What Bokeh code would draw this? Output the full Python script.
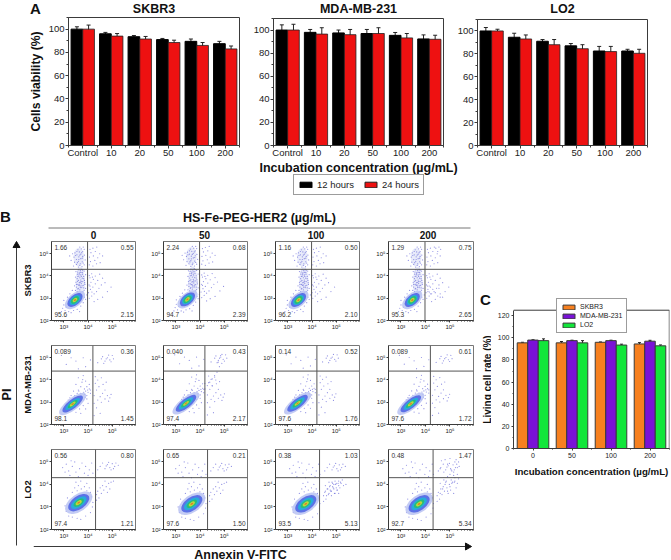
from math import pi
from bokeh.embed import file_html
from bokeh.resources import INLINE
from bokeh.plotting import figure
from bokeh.layouts import row, column
from bokeh.models import (ColumnDataSource, Range1d, FixedTicker, Label, Whisker, TeeHead,
                          Legend, LegendItem, Span)

FONT = "Liberation Sans"
DARK = "#3a3a3a"

# ---------- panel A data
CONC_A = ["Control", "10", "20", "50", "100", "200"]
A_TITLES = ["SKBR3", "MDA-MB-231", "LO2"]
A_12H = [[100, 96, 93.5, 91, 89.5, 87.5], [100, 98, 97.5, 97, 95.4, 92.3], [100, 94.5, 91, 87, 82.5, 82.5]]
A_12H_ERR = [[2, 1.2, 1, 1, 2, 2], [4.5, 2.5, 2.5, 3.5, 2.5, 3.5], [3, 3.5, 1.5, 2, 4, 1.5]]
A_24H = [[100, 94, 91.5, 88.5, 86, 83], [100, 96.5, 96, 97, 93.2, 92], [100, 93, 88, 84.5, 82, 80.5]]
A_24H_ERR = [[3.5, 2.2, 2.2, 2, 2.5, 2.5], [5, 5.5, 4.5, 5, 3.8, 3.5], [1.5, 3.5, 4.5, 3.5, 4.5, 3.5]]

# ---------- panel C data
CONC_C = ["0", "50", "100", "200"]
C_NAMES = ["SKBR3", "MDA-MB-231", "LO2"]
C_COLORS = ["#f7801f", "#7a12d6", "#12e63a"]
C_VALS = [[95.5, 95.5, 96, 94.5], [98, 97.5, 97.5, 97], [97.5, 95.5, 93.5, 92.8]]
C_ERRS = [[0.5, 1.2, 0.3, 1.2], [0.3, 0.4, 0.4, 0.8], [1.6, 2, 0.8, 0.8]]

# ---------- panel B data: quadrant percentages (UL, UR, LL, LR)
B_COLS = ["0", "50", "100", "200"]
B_ROWS = ["SKBR3", "MDA-MB-231", "LO2"]
Q_TEXT = [
    [("1.66", "0.55", "95.6", "2.15"), ("2.24", "0.68", "94.7", "2.39"), ("1.16", "0.50", "96.2", "2.10"), ("1.29", "0.75", "95.3", "2.65")],
    [("0.089", "0.36", "98.1", "1.45"), ("0.040", "0.43", "97.4", "2.17"), ("0.14", "0.52", "97.6", "1.76"), ("0.089", "0.61", "97.6", "1.72")],
    [("0.56", "0.80", "97.4", "1.21"), ("0.65", "0.21", "97.6", "1.50"), ("0.38", "1.03", "93.5", "5.13"), ("0.48", "1.47", "92.7", "5.34")],
]
QUAD_X = [3.98, 4.2, 4.31]
QUAD_Y = [4.3, 4.4, 4.3]
CORE_X = [[3.46, 3.48, 3.44, 3.46], [3.365, 3.42, 3.40, 3.40], [3.615, 3.66, 3.74, 3.74]]
CORE_Y = [[2.92, 2.95, 2.92, 2.92], [2.92, 2.95, 2.95, 2.93], [3.19, 3.14, 3.14, 3.14]]
CORE_ANGLE = [40, 38, 35]
CORE_LEN = [[24, 18, 13, 9.5, 5.5, 2.5], [33, 25, 18, 12, 7, 3], [31, 24, 18, 12, 7, 3]]
CORE_THK = [[13, 10, 7.5, 5.5, 3.2, 1.6], [12, 9, 6, 4, 2.4, 1.2], [17, 13, 9, 6, 3.4, 1.6]]
CORE_COL = ["#b9c2f2", "#4a62e4", "#20b4d8", "#28c264", "#d8dc30", "#e4682e"]
# pale haze behind the column of cells in the SKBR3 row: centre, half sizes in log units
HAZE_0 = [(3.68, 3.7, 0.2, 0.7), (3.62, 4.85, 0.22, 0.42)]

CLOUD_0 = [(3.62,3.2),(3.7,3.25),(3.55,3.3),(3.78,3.3),(3.48,3.35),(3.66,3.38),(3.84,3.36),(3.6,3.45),(3.74,3.48),(3.52,3.5),
    (3.9,3.44),(3.68,3.55),(3.8,3.58),(3.44,3.56),(3.58,3.62),(3.72,3.66),(3.87,3.62),(3.64,3.7),(3.5,3.72),(3.78,3.75),
    (3.6,3.8),(3.7,3.82),(3.85,3.8),(3.55,3.88),(3.66,3.92),(3.76,3.9),(3.48,3.95),(3.62,4.0),(3.82,3.98),(3.7,4.05),
    (3.56,4.08),(3.9,4.06),(3.64,4.14),(3.76,4.16),(3.5,4.2),(3.68,4.24),(3.84,4.22),(3.6,4.28),(3.74,4.3),(3.66,3.12),
    (3.75,3.15),(3.58,3.42),(3.68,3.48),(3.82,3.47),(3.62,3.58),(3.75,3.56),(3.68,3.72),(3.56,3.76),(3.72,3.75),(3.82,3.88),
    (3.72,3.98),(3.58,3.98),(3.77,4.08),(3.63,4.08),(3.7,4.16),(3.57,4.18),(3.78,4.26),(3.65,3.6),(3.52,3.62),(3.86,3.7),
    (3.4,4.45),(3.6,4.4),(3.75,4.42),(3.52,4.52),(3.68,4.55),(3.84,4.5),(3.44,4.62),(3.6,4.66),(3.76,4.64),(3.3,4.7),
    (3.52,4.74),(3.7,4.78),(3.88,4.72),(3.42,4.85),(3.62,4.86),(3.78,4.88),(3.54,4.95),(3.7,4.98),(3.85,4.94),(3.46,5.04),
    (3.64,5.08),(3.78,5.1),(3.58,5.18),(3.72,5.22),(3.66,5.3),(3.8,5.3),(3.24,4.9),(3.36,5.0),(3.66,4.48),(3.56,4.6),
    (3.8,4.58),(3.62,4.74),(3.76,4.8),(3.48,4.92),(3.66,4.94),(3.74,5.05),(3.54,5.1),(3.84,5.2),
    (4.05,4.5),(4.2,4.45),(4.35,4.55),(4.1,4.65),(4.28,4.7),(4.5,4.6),(4.06,4.85),(4.22,4.9),(4.4,4.82),(4.12,5.05),
    (4.3,5.1),(4.48,5.0),(4.2,5.25),(4.36,5.3),(4.08,5.2),(4.6,4.9),
    (4.05,3.0),(4.15,3.1),(4.02,3.25),(4.25,3.2),(4.1,3.4),(4.35,3.3),(4.2,3.5),(4.04,3.6),(4.45,3.45),(4.3,3.65),
    (4.12,3.72),(4.55,3.6),(4.22,3.85),(4.4,3.8),(4.08,3.92),(4.6,3.9),(4.3,4.0),(4.15,4.1),(4.48,4.08),(4.7,3.7),
    (4.8,3.3),(4.95,3.5),(4.25,2.85),(4.4,2.95),(4.6,3.05),(4.05,4.02),(4.18,3.95),(4.08,3.55),(4.16,3.28),
    (3.05,2.45),(3.1,2.6),(3.0,2.7),(3.2,2.4),(2.95,2.55),(3.3,2.35),(3.15,2.75),(3.4,2.45),(3.55,2.5),(3.7,2.65),
    (3.8,2.8),(3.9,2.95),(3.25,3.2),(3.15,3.05),(3.35,3.35),(2.9,2.4),(3.0,2.9),(3.85,3.05),(3.95,3.15),(3.65,2.4)]

CLOUD_1 = [(3.1,4.7),(3.5,4.85),(3.9,4.6),(3.8,5.0),(2.9,5.1),(3.3,5.0),(4.1,4.9),(3.6,4.5),
    (3.6,4.1),(3.8,4.2),(3.75,3.9),(3.9,3.95),(3.5,3.8),(3.7,3.7),(3.85,3.6),(3.6,3.55),(3.95,3.7),(4.05,3.8),(3.4,3.5),(3.78,4.02),
    (3.6,3.25),(3.75,3.2),(3.7,3.4),(3.85,3.35),(3.9,3.5),(4.0,3.45),(4.05,3.6),(4.1,3.55),(3.95,3.3),(4.1,3.4),
    (3.8,3.1),(3.95,3.15),(3.65,3.05),(3.72,3.3),(3.82,3.45),(3.98,3.55),(3.88,3.22),(3.55,3.4),(3.45,3.3),(3.62,3.5),
    (3.3,3.3),(3.25,3.2),(3.18,3.1),(3.5,2.55),(3.65,2.7),(3.8,2.85),(3.9,2.7),(4.0,2.95),(3.7,2.5),
    (4.25,3.3),(4.35,3.55),(4.3,3.85),(4.45,3.7),(4.5,3.25),(4.6,3.4),(4.4,3.1),(4.25,2.95),(4.55,3.0),(4.7,3.15),(4.8,3.3),
    (4.9,3.2),(4.7,3.55),(4.4,4.0),(4.55,4.1),(4.62,3.8),(4.3,4.15),(4.75,3.9),(4.35,2.75),(4.5,2.5),(4.25,2.4),(4.85,3.05),(4.95,3.35),
    (4.4,4.78),(4.55,4.95),(4.7,4.85),(4.8,5.0),(4.9,4.9),(5.0,5.1),(4.65,4.75),(4.75,4.95),(4.95,4.82),(4.85,5.12),(4.6,5.05),(5.05,4.95)]

CLOUD_2 = [(2.95,4.75),(3.1,4.9),(3.2,4.6),(3.35,4.8),(3.5,4.55),(3.45,5.0),(3.65,4.7),(3.75,4.95),(3.85,4.5),(3.9,4.8),
    (4.05,4.65),(4.15,4.95),(3.25,4.4),(3.6,4.35),(4.0,4.4),(3.05,4.55),(3.3,5.05),(4.2,4.5),
    (3.5,4.1),(3.7,4.15),(3.95,4.05),(3.6,3.95),(3.85,3.9),(3.45,3.85),(3.72,3.8),(4.05,3.85),(3.55,3.72),(3.95,3.72),
    (4.1,3.65),(3.35,3.65),(4.15,3.45),(4.2,3.2),(4.18,3.0),(4.05,3.35),(3.9,2.6),(3.7,2.45),(3.55,2.5),(4.1,2.75),(3.1,2.8),(3.2,2.6),(3.35,2.55),(3.05,3.05),(3.15,3.4),
    (4.35,3.55),(4.45,3.4),(4.55,3.6),(4.65,3.75),(4.5,3.85),(4.75,3.9),(4.85,4.05),(4.95,4.1),(4.6,3.95),(4.4,3.7),(5.05,4.15),(4.7,4.15),(4.9,3.8),(4.35,3.3),(4.8,3.65),
    (4.5,4.8),(4.6,4.95),(4.7,4.7),(4.8,4.88),(4.9,4.75),(5.0,4.92),(5.1,4.8),(4.85,4.98),(4.95,4.65),(5.15,4.95),(4.75,4.82),(5.05,4.7),(4.4,4.65),(5.25,4.85)]
CLOUDS = [CLOUD_0, CLOUD_1, CLOUD_2]

# extra points, only in the panels that show a second population
EXTRA = {
    (0, 3): [(4.1,3.3),(4.2,3.2),(4.3,3.4),(4.15,3.55),(4.4,3.25),(4.5,3.1),(4.55,3.45),(4.6,3.2),(4.7,3.05),(4.5,5.1),(4.55,5.3),(4.62,5.2),(4.42,5.25)],
    (1, 1): [(4.2,3.6),(4.3,3.75),(4.4,3.9),(4.5,4.05),(4.6,4.2),(4.7,4.35),(4.8,4.6),(4.9,4.75),(4.2,3.85),(4.5,3.75),(4.65,4.0),(4.75,4.8),(4.85,5.1)],
    (2, 2): [(4.6,3.5),(4.7,3.6),(4.8,3.7),(4.9,3.8),(5.0,3.85),(5.1,3.95),(5.2,4.05),(4.65,3.8),(4.75,3.95),(4.85,4.05),(4.95,4.15),(5.05,3.75),(5.15,3.85),(5.3,3.95),(4.55,3.7),(4.7,4.1),(4.9,4.0),(5.1,4.15),(5.25,4.2),(4.8,3.5),(5.4,4.0),(4.55,3.95),(4.95,3.6),(5.0,4.05),(4.85,3.9),(5.1,3.6),(4.75,3.75)],
    (2, 3): [(4.6,3.6),(4.7,3.8),(4.8,4.0),(4.9,3.7),(5.0,3.9),(5.1,4.1),(5.2,4.3),(5.3,4.05),(5.25,3.85),(5.15,3.6),(4.75,4.2),(4.9,4.35),(5.05,4.2),(5.2,4.15),(5.35,4.25),(4.6,4.05),(4.85,4.15),(5.0,4.45),(5.15,4.4),(5.3,4.45),
             (4.6,4.7),(4.75,4.55),(4.9,4.9),(5.05,4.65),(5.2,5.0),(5.3,4.75),(4.65,5.05),(4.8,5.1),(5.0,5.15),(5.15,4.55),(5.35,5.0),(5.25,5.1)],
}
TICK_MINOR = [2.30, 2.48, 2.60, 2.70, 2.78, 2.85, 2.90, 2.95,
              3.30, 3.48, 3.60, 3.70, 3.78, 3.85, 3.90, 3.95,
              4.30, 4.48, 4.60, 4.70, 4.78, 4.85, 4.90, 4.95,
              5.30, 5.48, 5.60, 5.70, 5.78, 5.85, 5.90, 5.95]
POW_TEXT = {2: "10²", 3: "10³", 4: "10⁴", 5: "10⁵"}


def base_fig(w, h, l, r, t, b, x_range, y_range):
    p = figure(frame_width=w, frame_height=h, x_range=x_range, y_range=y_range,
               toolbar_location=None, output_backend="svg",
               min_border_left=l, min_border_right=r, min_border_top=t, min_border_bottom=b)
    p.grid.visible = False
    p.background_fill_color = "white"
    p.border_fill_color = "white"
    p.outline_line_color = DARK
    p.outline_line_width = 1
    return p


def style_axes(p, size, tick=3, standoff=2):
    for ax in (p.xaxis[0], p.yaxis[0]):
        ax.major_label_text_font = FONT
        ax.major_label_text_font_size = size
        ax.major_label_text_color = "#222222"
        ax.major_tick_in = 0
        ax.major_tick_out = tick
        ax.minor_tick_in = 0
        ax.minor_tick_out = max(1, tick - 1)
        ax.axis_line_color = DARK
        ax.major_tick_line_color = DARK
        ax.minor_tick_line_color = DARK
        ax.major_label_standoff = standoff


def axis_title(ax, s, size, standoff):
    ax.axis_label = s
    ax.axis_label_text_font = FONT
    ax.axis_label_text_font_size = size
    ax.axis_label_text_font_style = "bold"
    ax.axis_label_text_color = "#111111"
    ax.axis_label_standoff = standoff


def text(p, x, y, s, size, bold=False, angle=0, align="center", base="middle", color="#111111", units="screen"):
    p.add_layout(Label(x=x, y=y, x_units=units, y_units=units, text=s, text_font=FONT,
                       text_font_size=size, text_font_style="bold" if bold else "normal",
                       text_color=color, angle=angle, text_align=align, text_baseline=base))


def blank_fig(x0, x1, y0, y1):
    """A strip without axes whose data coordinates are the page pixels."""
    p = figure(frame_width=x1 - x0, frame_height=y1 - y0, x_range=Range1d(x0, x1), y_range=Range1d(y1, y0),
               toolbar_location=None, output_backend="svg",
               min_border_left=0, min_border_right=0, min_border_top=0, min_border_bottom=0)
    p.axis.visible = False
    p.grid.visible = False
    p.outline_line_color = None
    p.background_fill_color = "white"
    p.border_fill_color = "white"
    return p


def whisk(p, xs, tops, errs, head=4):
    src = ColumnDataSource(dict(x=xs, up=[a + e for a, e in zip(tops, errs)], lo=[a - e for a, e in zip(tops, errs)]))
    p.add_layout(Whisker(source=src, base="x", upper="up", lower="lo", line_color="#222222", line_width=1,
                         upper_head=TeeHead(size=head, line_color="#222222", line_width=1),
                         lower_head=TeeHead(size=head, line_color="#222222", line_width=1)))


# ---------- panel A
strip_top = blank_fig(0, 671, 0, 16)
text(strip_top, 35, 7.5, "A", "15px", True, units="data")
for name, xc in zip(A_TITLES, [153.5, 358, 562]):
    text(strip_top, xc, 8.5, name, "12.5px", True, units="data")

A_GEOM = [(171, 128, 68, 6, 1), (170, 127, 28, 9, 2), (170, 126, 25, 24, 3)]
a_figs = []
for i, (w, h, l, r, t) in enumerate(A_GEOM):
    p = base_fig(w, h, l, r, t, 16, Range1d(0, 6), Range1d(0, 110))
    xs = [k + 0.5 for k in range(len(CONC_A))]
    bw = 0.41
    p.vbar(x=[k - bw / 2 for k in xs], top=A_12H[i], width=bw, fill_color="#000000", line_color="#000000")
    p.vbar(x=[k + bw / 2 for k in xs], top=A_24H[i], width=bw, fill_color="#ee1111", line_color="#222222", line_width=0.8)
    whisk(p, [k - bw / 2 for k in xs], A_12H[i], A_12H_ERR[i])
    whisk(p, [k + bw / 2 for k in xs], A_24H[i], A_24H_ERR[i])
    style_axes(p, "9.5px", 3, 1)
    p.xaxis[0].major_label_standoff = -2
    p.xaxis[0].ticker = FixedTicker(ticks=xs, minor_ticks=list(range(7)))
    p.xaxis[0].major_label_overrides = {x: c for x, c in zip(xs, CONC_A)}
    p.yaxis[0].ticker = FixedTicker(ticks=[0, 20, 40, 60, 80, 100], minor_ticks=[10, 30, 50, 70, 90, 110])
    if i == 0:
        axis_title(p.yaxis[0], "Cells viability (%)", "12.2px", 3)
    a_figs.append(column(p))

strip_a = blank_fig(0, 671, 161, 200)
text(strip_a, 358, 167.5, "Incubation concentration (µg/mL)", "12.5px", True, units="data")
r1 = strip_a.quad(left=[float("nan")], right=[float("nan")], top=[float("nan")], bottom=[float("nan")], fill_color="#000000", line_color="#000000")
r2 = strip_a.quad(left=[float("nan")], right=[float("nan")], top=[float("nan")], bottom=[float("nan")], fill_color="#ee1111", line_color="#222222")
leg_a = Legend(items=[LegendItem(label="12 hours", renderers=[r1]), LegendItem(label="24 hours", renderers=[r2])],
               orientation="horizontal", location=(293, 5), margin=0, padding=4, spacing=9, label_standoff=4,
               glyph_width=15, glyph_height=7, label_height=7, label_text_font=FONT, label_text_font_size="9.5px",
               label_text_color="#222222", border_line_color=DARK, border_line_width=1, background_fill_alpha=1)
strip_a.add_layout(leg_a)

# ---------- panel B
left_b = blank_fig(0, 33, 200, 560)
left_b.line([16, 16], [247, 545], line_color=DARK, line_width=1)
left_b.scatter([16], [245], marker="triangle", size=7, fill_color="#111111", line_color="#111111")
text(left_b, 5, 216, "B", "15px", True, units="data")
text(left_b, 6, 394, "PI", "12.5px", True, angle=pi / 2, units="data")
for name, yc in zip(B_ROWS, [280, 384, 489]):
    text(left_b, 27, yc, name, "9.5px", True, angle=pi / 2, units="data")

head_b = blank_fig(33, 476, 200, 240)
text(head_b, 259, 217, "HS-Fe-PEG-HER2 (µg/mL)", "12.5px", True, units="data")
head_b.line([48, 470], [227.5, 227.5], line_color="#777777", line_width=1)
for name, xc in zip(B_COLS, [93, 204, 315.5, 427.5]):
    text(head_b, xc, 234, name, "10px", True, units="data")

COL_GEOM = [(84, 18, 13), (84, 14, 13), (84, 14, 14), (85, 14, 6)]
ROW_GEOM = [(79, 1, 14), (79, 11, 14), (80, 11, 11)]
rows_b = []
for r, (fh, ft, fb) in enumerate(ROW_GEOM):
    cells = []
    for c, (fw, fl, fr) in enumerate(COL_GEOM):
        p = base_fig(fw, fh, fl, fr, ft, fb, Range1d(2.49, 5.96), Range1d(2.0, 5.55))
        pts = CLOUDS[r]
        dx = CORE_X[r][c] - CORE_X[r][0]
        dy = CORE_Y[r][c] - CORE_Y[r][0]
        extra = EXTRA.get((r, c), [])
        px = [a + dx for a, _ in pts] + [a for a, _ in extra]
        py = [b + dy for _, b in pts] + [b for _, b in extra]
        if r == 0:
            p.ellipse([h[0] + dx for h in HAZE_0], [h[1] + dy for h in HAZE_0],
                      width=[2 * h[2] for h in HAZE_0], height=[2 * h[3] for h in HAZE_0],
                      fill_color="#d6daf6", fill_alpha=0.55, line_color=None)
        p.scatter(px, py, size=1.2, fill_color="#6464d8", fill_alpha=0.7, line_color=None)
        for ln, th, col in zip(CORE_LEN[r], CORE_THK[r], CORE_COL):
            p.ellipse([CORE_X[r][c]], [CORE_Y[r][c]], width=ln, height=th, width_units="screen", height_units="screen",
                      angle=CORE_ANGLE[r], angle_units="deg", fill_color=col, line_color=None, fill_alpha=0.85)
        p.add_layout(Span(location=QUAD_X[r], dimension="height", line_color="#555555", line_width=1))
        p.add_layout(Span(location=QUAD_Y[r], dimension="width", line_color="#555555", line_width=1))
        style_axes(p, "6px", 2, 1)
        p.outline_line_color = "#777777"
        p.xaxis[0].ticker = FixedTicker(ticks=[3, 4, 5], minor_ticks=TICK_MINOR)
        p.yaxis[0].ticker = FixedTicker(ticks=[2, 3, 4, 5], minor_ticks=[])
        p.xaxis[0].major_label_overrides = {k: POW_TEXT[k] for k in [3, 4, 5]}
        p.yaxis[0].major_label_overrides = {k: POW_TEXT[k] for k in [2, 3, 4, 5]}
        ul, ur, ll, lr = Q_TEXT[r][c]
        text(p, 3, fh - 6, ul, "6.5px", align="left", color="#333333")
        text(p, fw - 2, fh - 6, ur, "6.5px", align="right", color="#333333")
        text(p, 3, 6, ll, "6.5px", align="left", color="#333333")
        text(p, fw - 2, 6, lr, "6.5px", align="right", color="#333333")
        cells.append(p)
    rows_b.append(row(*cells, spacing=0))

foot_b = blank_fig(33, 476, 540, 560)
foot_b.line([33, 466], [545, 545], line_color=DARK, line_width=1)
foot_b.scatter([467], [545], marker="triangle", size=7, angle=-pi / 2, fill_color="#111111", line_color="#111111")
text(foot_b, 240, 553, "Annexin V-FITC", "12.5px", True, units="data")

# ---------- panel C
left_c = blank_fig(480, 492, 200, 560)
text(left_c, 486, 299, "C", "15px", True, units="data")
text(left_c, 487.5, 379, "Living cell rate (%)", "10px", True, angle=pi / 2, units="data")

pc = base_fig(156, 153, 22, 1, 95, 112, Range1d(0, 4), Range1d(0, 138.3))
pc.outline_line_color = None
xs_c = [k + 0.5 for k in range(len(CONC_C))]
bw_c = 0.27
legend_items = []
for j, name in enumerate(C_NAMES):
    xj = [x + (j - 1) * bw_c for x in xs_c]
    rend = pc.vbar(x=xj, top=C_VALS[j], width=bw_c, fill_color=C_COLORS[j], line_color="#3a3a3a", line_width=1)
    whisk(pc, xj, C_VALS[j], C_ERRS[j], 3)
    legend_items.append(LegendItem(label=name, renderers=[rend]))
pc.line([0, 4], [125, 125], line_color=DARK, line_width=1)
pc.line([3.995, 3.995], [0, 125], line_color=DARK, line_width=1)
style_axes(pc, "7px", 2, 2)
pc.yaxis[0].bounds = (0, 125)
pc.xaxis[0].ticker = FixedTicker(ticks=xs_c, minor_ticks=[0, 1, 2, 3, 4])
pc.xaxis[0].major_label_overrides = {x: c for x, c in zip(xs_c, CONC_C)}
pc.yaxis[0].ticker = FixedTicker(ticks=[0, 20, 40, 60, 80, 100, 120], minor_ticks=[10, 30, 50, 70, 90, 110])
axis_title(pc.xaxis[0], "Incubation concentration (µg/mL)", "9.7px", 5)
leg_c = Legend(items=legend_items, orientation="vertical", location=(43, 115), margin=0, padding=4, spacing=2,
               label_standoff=4, glyph_width=15, glyph_height=6, label_height=7, label_text_font=FONT,
               label_text_font_size="7px", label_text_color="#222222", border_line_color=DARK, border_line_width=1,
               background_fill_alpha=1)
pc.add_layout(leg_c)

# ---------- layout
root = column(
    strip_top,
    row(*a_figs, spacing=0),
    strip_a,
    row(column(left_b), column(head_b, *rows_b, foot_b, spacing=0), column(left_c), column(pc), spacing=0),
    spacing=0,
)

open("out.html", "w").write(file_html(root, INLINE))
